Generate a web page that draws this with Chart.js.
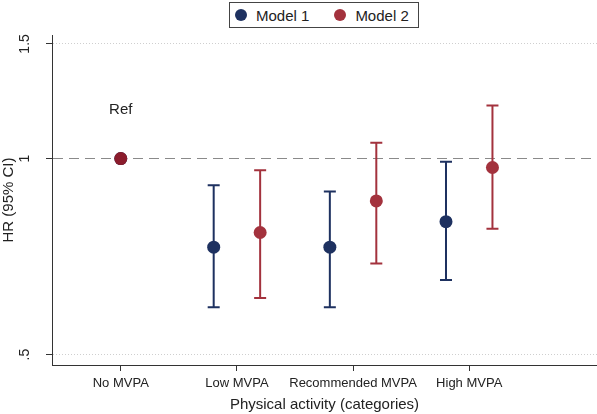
<!DOCTYPE html>
<html>
<head>
<meta charset="utf-8">
<script src="https://cdn.jsdelivr.net/npm/chart.js@4/dist/chart.umd.min.js"></script>
<style>
  html, body { margin: 0; background: #fff; overflow: hidden; }
  #wrap { position: relative; width: 597px; height: 414px; }
  #legend {
    position: absolute; left: 229px; top: 2px; width: 190px; height: 26px;
    border: 1px solid #444; background: #fff;
    font: 15px 'Liberation Sans', Arial, sans-serif; color: #222;
    display: flex; align-items: center; padding-left: 5px; box-sizing: border-box;
    white-space: nowrap;
  }
  #legend .item { display: flex; align-items: center; margin-right: 25px; flex-shrink: 0; }
  #legend .dot { width: 12px; height: 12px; border-radius: 50%; margin-right: 9px; flex-shrink: 0; }
</style>
</head>
<body>
<div id="wrap">
  <canvas id="hrChart"></canvas>
  <div id="legend"></div>
</div>
<script>
// categorias y posiciones en el eje x
const categories = ['No MVPA', 'Low MVPA', 'Recommended MVPA', 'High MVPA'];
const catPos = [1, 2, 3, 4];

// HR e IC 95%
const model1HR = [1, 0.731, 0.731, 0.800];
const model1Lo = [null, 0.591, 0.591, 0.651];
const model1Hi = [null, 0.910, 0.890, 0.989];

const model2HR = [1, 0.770, 0.861, 0.969];
const model2Lo = [null, 0.611, 0.690, 0.780];
const model2Hi = [null, 0.960, 1.058, 1.207];

const yTicks = [0.5, 1, 1.5];
const yTickLabels = ['.5', '1', '1.5'];

// texto "Ref" sobre la categoria de referencia
const refText = 'Ref';
const refAt = { x: 1, y: 1.19 };

const FONT = "'Liberation Sans', Arial, sans-serif";
const NAVY = '#1e3160';
const RED = '#a3323d';

// la categoria de referencia no lleva desplazamiento
function pts(hr, lo, hi, shift) {
    return hr.map((v, i) => ({
        x: catPos[i] + (lo[i] === null ? 0 : shift),
        y: v, lo: lo[i], hi: hi[i]
    }));
}

// barras de error dibujadas con las escalas del grafico
const errorBars = {
    id: 'errorBars',
    beforeDatasetsDraw(chart) {
        const { ctx, scales: { x, y } } = chart;
        chart.data.datasets.forEach((ds, di) => {
            if (!chart.isDatasetVisible(di)) return;
            ctx.save();
            ctx.strokeStyle = ds.borderColor;
            ctx.lineWidth = 2;
            ds.data.forEach(p => {
                if (p.lo === null) return;
                const px = x.getPixelForValue(p.x);
                const yl = y.getPixelForValue(p.lo);
                const yh = y.getPixelForValue(p.hi);
                ctx.beginPath();
                ctx.moveTo(px, yl); ctx.lineTo(px, yh);
                ctx.moveTo(px - 6, yl); ctx.lineTo(px + 6, yl);
                ctx.moveTo(px - 6, yh); ctx.lineTo(px + 6, yh);
                ctx.stroke();
            });
            ctx.restore();
        });
    }
};

// etiquetas del eje y giradas como en Stata, y el texto "Ref"
const textLabels = {
    id: 'textLabels',
    afterDraw(chart) {
        const { ctx, scales: { x, y } } = chart;
        ctx.save();
        ctx.fillStyle = '#222';
        ctx.textAlign = 'center';
        ctx.textBaseline = 'middle';
        ctx.font = '14px ' + FONT;
        y.ticks.forEach(t => {
            const idx = yTicks.indexOf(t.value);
            ctx.save();
            ctx.translate(25, y.getPixelForValue(t.value));
            ctx.rotate(-Math.PI / 2);
            ctx.fillText(yTickLabels[idx], 0, 0);
            ctx.restore();
        });
        ctx.font = '15px ' + FONT;
        ctx.fillText(refText, x.getPixelForValue(refAt.x), y.getPixelForValue(refAt.y));
        ctx.restore();
    }
};

const chart = new Chart(document.getElementById('hrChart'), {
    type: 'scatter',
    data: {
        datasets: [
            {
                label: 'Model 1',
                data: pts(model1HR, model1Lo, model1Hi, -0.2),
                backgroundColor: NAVY,
                borderColor: NAVY,
                pointRadius: 6.5,
                pointHoverRadius: 6.5,
                pointBorderWidth: 0,
                order: 1
            },
            {
                label: 'Model 2',
                data: pts(model2HR, model2Lo, model2Hi, 0.2),
                backgroundColor: RED,
                borderColor: RED,
                // el punto de referencia se ve mas oscuro (superpuesto)
                pointBackgroundColor: c => c.dataIndex === 0 ? '#8b1c2c' : RED,
                pointRadius: 6.5,
                pointHoverRadius: 6.5,
                pointBorderWidth: 0,
                order: 0
            }
        ]
    },
    options: {
        responsive: true,
        maintainAspectRatio: false,
        animation: false,
        layout: { autoPadding: false, padding: { top: 35, right: 0, bottom: 0, left: 0 } },
        plugins: {
            legend: { display: false },
            tooltip: { enabled: false }
        },
        scales: {
            x: {
                type: 'linear',
                min: 0.408,
                max: 5.1,
                afterBuildTicks: s => { s.ticks = catPos.map(v => ({ value: v })); },
                afterFit: s => { s.height = 49; },
                ticks: {
                    callback: v => categories[catPos.indexOf(v)],
                    font: { family: FONT, size: 13 },
                    color: '#222',
                    padding: 5,
                    maxRotation: 0,
                    autoSkip: false
                },
                grid: {
                    drawOnChartArea: false,
                    tickLength: 6,
                    tickColor: '#333'
                },
                border: { color: '#333', width: 1 },
                title: {
                    display: true,
                    text: 'Physical activity (categories)',
                    font: { family: FONT, size: 15 },
                    color: '#222',
                    padding: { top: 0, bottom: 0 }
                }
            },
            y: {
                type: 'logarithmic',
                min: 0.482,
                max: 1.548,
                afterBuildTicks: s => { s.ticks = yTicks.map(v => ({ value: v })); },
                afterFit: s => { s.width = 52; },
                ticks: { display: false },
                grid: {
                    color: c => (c.tick && c.tick.value === 1) ? '#8a8a8a' : '#cfcfcf',
                    lineWidth: 1,
                    tickLength: 6,
                    tickColor: '#333'
                },
                border: {
                    color: '#333',
                    width: 1,
                    dash: c => (c.tick && c.tick.value === 1) ? [10, 6] : [1, 2]
                },
                title: {
                    display: true,
                    text: 'HR (95% CI)',
                    font: { family: FONT, size: 15 },
                    color: '#222',
                    padding: { top: 0, bottom: 0 }
                }
            }
        }
    },
    plugins: [errorBars, textLabels]
});

// leyenda con recuadro, construida desde los datasets
const legendEl = document.getElementById('legend');
chart.data.datasets.forEach(ds => {
    const item = document.createElement('span');
    item.className = 'item';
    const dot = document.createElement('span');
    dot.className = 'dot';
    dot.style.background = ds.backgroundColor;
    item.appendChild(dot);
    item.appendChild(document.createTextNode(ds.label));
    legendEl.appendChild(item);
});
</script>
</body>
</html>
